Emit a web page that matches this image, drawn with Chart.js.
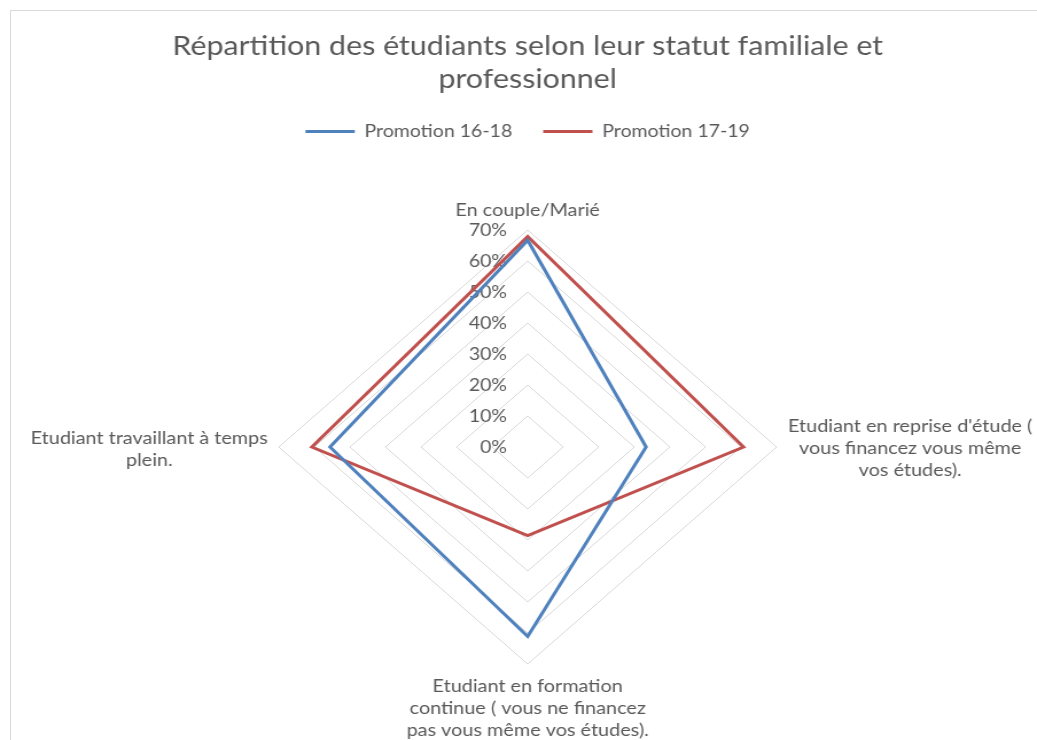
<!DOCTYPE html>
<html lang="fr">
<head>
<meta charset="utf-8">
<title>Répartition des étudiants</title>
<script src="https://cdn.jsdelivr.net/npm/chart.js@4/dist/chart.umd.min.js"></script>
<style>
  html, body { margin: 0; padding: 0; background: #ffffff; overflow: hidden; }
  body { width: 1037px; height: 740px; position: relative; }
  #frame { position: absolute; left: 10px; top: 10px; width: 1100px; height: 800px;
           border-left: 1px solid #d9d9d9; border-top: 1px solid #d9d9d9; box-sizing: border-box; }
  #wrap { position: absolute; left: 0; top: 0; width: 904px; height: 740px;
          transform: scaleX(1.1471); transform-origin: 0 0; }
</style>
</head>
<body>
<div id="frame"></div>
<div id="wrap"><canvas id="chart" width="904" height="740"></canvas></div>
<script>
// ---- data ----
const chartTitle = ["Répartition des étudiants selon leur statut familiale et", "professionnel"];
const categories = [
  ["En couple/Marié"],
  ["Etudiant en reprise d'étude (", "vous financez vous même", "vos études)."],
  ["Etudiant en formation", "continue ( vous ne financez", "pas vous même vos études)."],
  ["Etudiant travaillant à temps", "plein."]
];
const seriesNames = ["Promotion 16-18", "Promotion 17-19"];
const promo1618 = [66.7, 33.3, 61.1, 55.6];
const promo1719 = [67.9, 60.7, 28.6, 60.7];
const axisMin = 0;
const axisMax = 70;
const axisStep = 10;
const tickSuffix = "%";

// ---- style ----
const FONT = "Lato";
const TEXT = "#595959";
const GRID = "#d9d9d9";
const BLUE = "#4f81bd";
const RED = "#c0504d";

const excelLabels = {
  id: 'excelLabels',
  beforeDatasetsDraw(chart, args, opts) {
    const s = chart.scales.r;
    const ctx = chart.ctx;
    ctx.save();
    ctx.fillStyle = opts.color;
    // tick labels, right-aligned left of the vertical axis
    ctx.font = opts.tickSize + 'px ' + FONT;
    ctx.textAlign = 'right';
    ctx.textBaseline = 'middle';
    s.ticks.forEach(t => {
      const d = s.getDistanceFromCenterForValue(t.value);
      ctx.fillText(t.label, s.xCenter - opts.tickOffset, s.yCenter - d + 1);
    });
    // category labels, lines centred in their block
    ctx.font = opts.labelSize + 'px ' + FONT;
    ctx.textAlign = 'center';
    chart.data.labels.forEach((lab, i) => {
      const lines = Array.isArray(lab) ? lab : [lab];
      const p0 = s.getPointPosition(i, s.drawingArea);
      const dx = p0.x - s.xCenter, dy = p0.y - s.yCenter;
      const dir = Math.abs(dx) < 1 ? (dy < 0 ? 'top' : 'bottom') : (dx > 0 ? 'right' : 'left');
      const pos = s.getPointPosition(i, s.drawingArea + opts.pad[dir]);
      const w = Math.max(...lines.map(l => ctx.measureText(l).width));
      const h = lines.length * opts.lineHeight;
      let cx, top;
      if (dir === 'top') { cx = pos.x; top = pos.y - h; }
      else if (dir === 'bottom') { cx = pos.x; top = pos.y; }
      else if (dir === 'right') { cx = pos.x + w / 2; top = pos.y - h / 2 + 1; }
      else { cx = pos.x - w / 2; top = pos.y - h / 2 + 2; }
      lines.forEach((l, k) => ctx.fillText(l, cx, top + opts.lineHeight * (k + 0.5)));
    });
    ctx.restore();
  }
};

function draw() {
  new Chart(document.getElementById('chart'), {
    type: 'radar',
    data: {
      labels: categories,
      datasets: [
        { label: seriesNames[0], data: promo1618, borderColor: BLUE, backgroundColor: 'rgba(0,0,0,0)',
          borderWidth: 3, pointRadius: 0, pointHoverRadius: 0, fill: false, tension: 0 },
        { label: seriesNames[1], data: promo1719, borderColor: RED, backgroundColor: 'rgba(0,0,0,0)',
          borderWidth: 3, pointRadius: 0, pointHoverRadius: 0, fill: false, tension: 0 }
      ]
    },
    options: {
      responsive: false,
      animation: false,
      devicePixelRatio: 1,
      layout: { padding: { left: 16, right: 0, top: 0, bottom: 76 } },
      scales: {
        r: {
          min: axisMin, max: axisMax,
          ticks: { stepSize: axisStep, display: false, callback: v => v + tickSuffix },
          grid: { color: GRID, lineWidth: 1, circular: false },
          angleLines: { display: false },
          pointLabels: { display: false }
        }
      },
      plugins: {
        title: {
          display: true, text: chartTitle, color: TEXT,
          font: { family: FONT, size: 26.5, weight: 'normal', lineHeight: '33px' },
          padding: { top: 30, bottom: 0 }
        },
        legend: {
          display: true, position: 'top',
          labels: {
            color: TEXT, font: { family: FONT, size: 17 },
            usePointStyle: true, pointStyle: 'line', pointStyleWidth: 43, padding: 27
          }
        },
        subtitle: {
          display: true, text: '', weight: 500, position: 'top',
          font: { family: FONT, size: 10, lineHeight: '80px' }, padding: 0
        },
        tooltip: { enabled: false },
        excelLabels: {
          color: TEXT, tickSize: 17, labelSize: 17.3, lineHeight: 22, tickOffset: 18,
          pad: { top: 9, right: 10, bottom: 11.5, left: 9.5 }
        }
      }
    },
    plugins: [excelLabels]
  });
}

if (document.fonts && document.fonts.load) {
  Promise.all([document.fonts.load('17px Lato'), document.fonts.load('26px Lato')]).then(draw, draw);
} else { draw(); }
</script>
</body>
</html>
